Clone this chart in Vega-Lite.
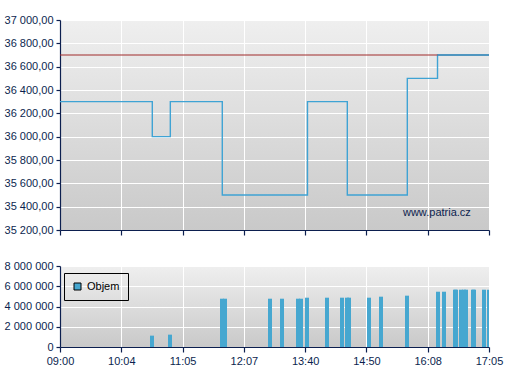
{
  "$schema": "https://vega.github.io/schema/vega-lite/v6.json",
  "padding": {"left": 4, "top": 14, "right": 5, "bottom": 5},
  "spacing": 24,
  "datasets": {
    "price": [
      {"pos": 0, "price": 36300},
      {"pos": 1.506, "price": 36000},
      {"pos": 1.8, "price": 36300},
      {"pos": 2.648, "price": 35500},
      {"pos": 4.038, "price": 36300},
      {"pos": 4.688, "price": 35500},
      {"pos": 5.667, "price": 36500},
      {"pos": 6.16, "price": 36700},
      {"pos": 7, "price": 36700}
    ],
    "volume": [
      {"pos": 1.501, "vol": 1120000, "s": "Objem"},
      {"pos": 1.795, "vol": 1220000, "s": "Objem"},
      {"pos": 2.643, "vol": 4770000, "s": "Objem"},
      {"pos": 2.692, "vol": 4770000, "s": "Objem"},
      {"pos": 3.427, "vol": 4770000, "s": "Objem"},
      {"pos": 3.622, "vol": 4770000, "s": "Objem"},
      {"pos": 3.883, "vol": 4770000, "s": "Objem"},
      {"pos": 3.932, "vol": 4770000, "s": "Objem"},
      {"pos": 4.03, "vol": 4870000, "s": "Objem"},
      {"pos": 4.357, "vol": 4870000, "s": "Objem"},
      {"pos": 4.601, "vol": 4870000, "s": "Objem"},
      {"pos": 4.683, "vol": 4870000, "s": "Objem"},
      {"pos": 4.716, "vol": 4870000, "s": "Objem"},
      {"pos": 5.042, "vol": 4870000, "s": "Objem"},
      {"pos": 5.238, "vol": 4970000, "s": "Objem"},
      {"pos": 5.662, "vol": 5070000, "s": "Objem"},
      {"pos": 6.168, "vol": 5460000, "s": "Objem"},
      {"pos": 6.266, "vol": 5460000, "s": "Objem"},
      {"pos": 6.445, "vol": 5660000, "s": "Objem"},
      {"pos": 6.462, "vol": 5660000, "s": "Objem"},
      {"pos": 6.543, "vol": 5660000, "s": "Objem"},
      {"pos": 6.592, "vol": 5660000, "s": "Objem"},
      {"pos": 6.625, "vol": 5660000, "s": "Objem"},
      {"pos": 6.739, "vol": 5660000, "s": "Objem"},
      {"pos": 6.755, "vol": 5660000, "s": "Objem"},
      {"pos": 6.918, "vol": 5660000, "s": "Objem"},
      {"pos": 7.0, "vol": 5660000, "s": "Objem"}
    ]
  },
  "vconcat": [
    {
      "width": 429,
      "height": 210,
      "encoding": {
        "x": {"field": "pos", "type": "quantitative", "scale": {"domain": [0, 7], "nice": false, "zero": false},
          "axis": {"title": null, "values": [0, 1, 2, 3, 4, 5, 6, 7], "labels": false, "tickSize": 5}},
        "y": {"field": "price", "type": "quantitative", "scale": {"domain": [35200, 37000], "nice": false, "zero": false},
          "axis": {"title": null, "tickCount": 10, "values": [35200, 35400, 35600, 35800, 36000, 36200, 36400, 36600, 36800, 37000], "format": ",.2f", "tickSize": 4, "labelPadding": 3, "labelOverlap": false, "labelSeparation": 0, "labelBound": false}}
      },
      "layer": [
        {
          "data": {"name": "price"},
          "mark": {"type": "line", "interpolate": "step-after", "color": "#3fa3d4", "strokeWidth": 1.4, "clip": true}
        },
        {
          "data": {"values": [{"price": 36700}]},
          "mark": {"type": "rule", "color": "#a02a2a", "strokeWidth": 1},
          "encoding": {"x": null}
        },
        {
          "data": {"name": "price"},
          "transform": [{"filter": "datum.pos >= 6"}],
          "mark": {"type": "line", "interpolate": "step-after", "color": "#3fa3d4", "strokeWidth": 1.4, "clip": true}
        },
        {
          "data": {"values": [{"pos": 6.15, "price": 35346, "t": "www.patria.cz"}]},
          "mark": {"type": "text", "font": "Liberation Sans", "fontSize": 11, "color": "#0c1f4f", "baseline": "middle", "align": "center"},
          "encoding": {
            "text": {"field": "t"}
          }
        }
      ]
    },
    {
      "width": 429,
      "height": 81,
      "data": {"name": "volume"},
      "mark": {"type": "bar", "size": 4, "clip": true, "stroke": null},
      "encoding": {
        "x": {"field": "pos", "type": "quantitative", "scale": {"domain": [0, 7], "nice": false, "zero": false, "padding": 0},
          "axis": {"title": null, "values": [0, 1, 2, 3, 4, 5, 6, 7], "tickSize": 5, "labelPadding": 3, "labelFlush": false,
            "labelExpr": "['09:00','10:04','11:05','12:07','13:40','14:50','16:08','17:05'][datum.value]"}},
        "y": {"field": "vol", "type": "quantitative", "scale": {"domain": [0, 8000000], "nice": false},
          "axis": {"title": null, "values": [0, 2000000, 4000000, 6000000, 8000000], "format": ",d", "tickSize": 4, "labelPadding": 3, "labelBound": false}},
        "color": {"field": "s", "type": "nominal", "scale": {"range": ["#46a7d0"]},
          "legend": {"title": null, "orient": "none", "legendX": 4, "legendY": 253, "strokeColor": "#000000", "padding": 8,
            "symbolType": "square", "symbolSize": 49, "symbolStrokeColor": "#000000", "symbolStrokeWidth": 1, "symbolOpacity": 1,
            "labelFont": "Liberation Sans", "labelFontSize": 11, "labelColor": "#000000"}}
      }
    }
  ],
  "config": {
    "locale": {"number": {"decimal": ",", "thousands": " ", "grouping": [3], "currency": ["", ""]}},
    "view": {
      "stroke": null,
      "fill": {"gradient": "linear", "x1": 0, "y1": 0, "x2": 0, "y2": 1,
        "stops": [{"offset": 0, "color": "#efefef"}, {"offset": 1, "color": "#c9c9c9"}]}
    },
    "axis": {
      "domainColor": "#0c1f4f", "tickColor": "#0c1f4f", "labelColor": "#0c1f4f",
      "labelFont": "Liberation Sans", "labelFontSize": 11, "labelOverlap": false,
      "gridColor": "#ffffff", "gridOpacity": 1, "gridWidth": 1, "domainWidth": 1.2, "tickWidth": 1.2
    }
  }
}
